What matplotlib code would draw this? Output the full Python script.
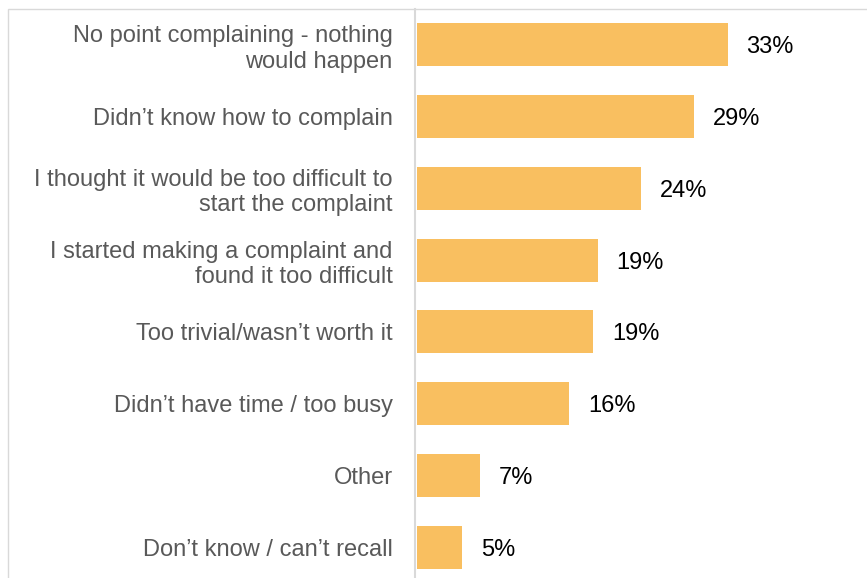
import matplotlib.pyplot as plt
from matplotlib.patches import Rectangle

plt.rcParams["font.family"] = ["Liberation Sans", "DejaVu Sans"]

categories = [
    "No point complaining - nothing\nwould happen",
    "Didn\u2019t know how to complain",
    "I thought it would be too difficult to\nstart the complaint",
    "I started making a complaint and\nfound it too difficult",
    "Too trivial/wasn\u2019t worth it",
    "Didn\u2019t have time / too busy",
    "Other",
    "Don\u2019t know / can\u2019t recall",
]
values = [33.0, 29.4, 23.8, 19.2, 18.7, 16.2, 6.7, 4.8]

BAR_COLOR = "#F9BF60"
LABEL_COLOR = "#595959"
GRID_GRAY = "#D9D9D9"
FS = 17

W, H = 867, 578
fig = plt.figure(figsize=(W / 100, H / 100), dpi=100)
fig.patch.set_facecolor("white")

# outer chart frame (clipped at right and bottom in the reference)
fig.add_artist(Rectangle((8 / W, -0.1), 2.0, 1.1 - 9 / H, transform=fig.transFigure,
                         fill=False, edgecolor=GRID_GRAY, linewidth=1.0))

ax_left, ax_top, ax_bottom = 415 / W, 1 - 9 / H, 1 - 583 / H
ax = fig.add_axes([ax_left, ax_bottom, 1 - ax_left, ax_top - ax_bottom])
ax.set_facecolor("none")

for side in ["top", "right", "bottom"]:
    ax.spines[side].set_visible(False)
ax.spines["left"].set_color(GRID_GRAY)
ax.spines["left"].set_linewidth(1.5)
ax.spines["left"].set_position(("data", -0.2))

y = range(len(categories))
ax.barh(y, values, height=0.6, color=BAR_COLOR, zorder=2)
ax.set_ylim(len(categories) - 0.5, -0.5)
ax.set_xlim(-0.2, 47.8)

for yi, v in zip(y, values):
    ax.text(v + 2.0, yi, f"{round(v)}%", va="center_baseline", ha="left",
            fontsize=FS, color="black")

ax.set_yticks(list(y))
ax.set_yticklabels(categories, fontsize=FS, color=LABEL_COLOR, linespacing=1.2)
ax.tick_params(axis="y", length=0, pad=16)
ax.set_xticks([])

fig.savefig("out.png", dpi=100)
